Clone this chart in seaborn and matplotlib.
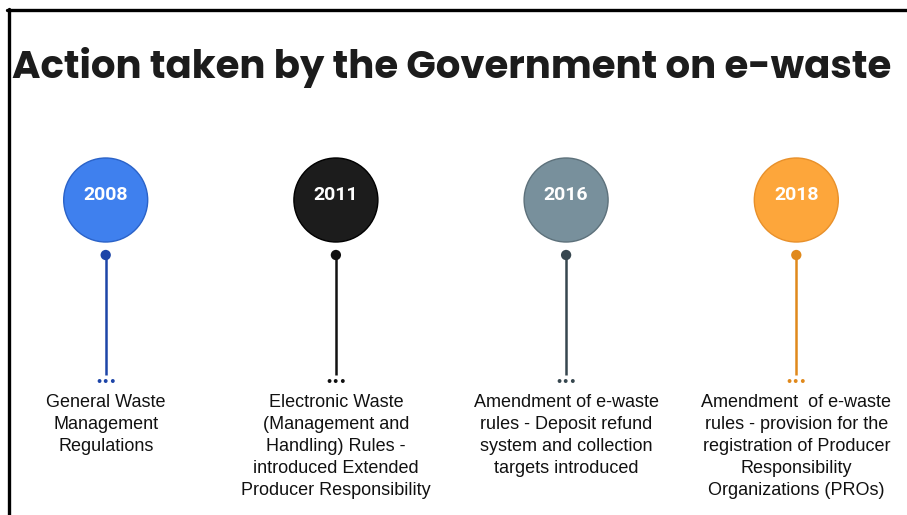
import matplotlib
matplotlib.use("Agg")
import matplotlib.pyplot as plt
import seaborn as sns
import pandas as pd
import numpy as np

# ---- data ----
title = "Action taken by the Government on e-waste"
years = ["2008", "2011", "2016", "2018"]
descriptions = [
    "General Waste\nManagement\nRegulations",
    "Electronic Waste\n(Management and\nHandling) Rules -\nintroduced Extended\nProducer Responsibility",
    "Amendment of e-waste\nrules - Deposit refund\nsystem and collection\ntargets introduced",
    "Amendment  of e-waste\nrules - provision for the\nregistration of Producer\nResponsibility\nOrganizations (PROs)",
]
circle_colors = ["#3f80ee", "#1c1c1c", "#78909c", "#fda63b"]
stem_colors = ["#1d45a8", "#111111", "#37474f", "#e0891c"]
edge_colors = ["#2a62c8", "#000000", "#5d717b", "#e8902a"]

# ---- layout (pixel units on a 907x515 canvas) ----
W, H = 907, 515
X0, DX = 105.7, 230.2          # first event centre and spacing in px
CIRCLE_Y, DOT_Y, STEM_END, DOTS_Y, TEXT_Y = 200, 255, 375, 382, 394

df = pd.DataFrame({"idx": np.arange(len(years)), "year": years,
                   "desc": descriptions})

sns.set_theme(style="white")
plt.rcParams["font.family"] = ["Liberation Sans", "DejaVu Sans"]

fig = plt.figure(figsize=(W / 100, H / 100), dpi=100)
ax = fig.add_axes([0, 0, 1, 1])
ax.set_xlim(-X0 / DX, (W - X0) / DX)
ax.set_ylim(H, 0)
ax.axis("off")

df["cy"] = CIRCLE_Y
df["dy"] = DOT_Y

# big circles
r_pt = 42 * 0.72
sns.scatterplot(data=df, x="idx", y="cy", hue="year", palette=circle_colors,
                s=(2 * r_pt) ** 2, edgecolor=edge_colors,
                linewidth=1.0, legend=False, ax=ax, zorder=3)

for i, row in df.iterrows():
    ax.plot([row.idx, row.idx], [DOT_Y, STEM_END], color=stem_colors[i],
            lw=1.8, zorder=2, solid_capstyle="butt")
    ax.text(row.idx, CIRCLE_Y - 5, row.year, color="white", fontsize=14,
            fontweight="bold", family=["Roboto", "DejaVu Sans"],
            ha="center", va="center", zorder=4)
    ax.text(row.idx, DOTS_Y, "\u2022\u2022\u2022", color=stem_colors[i],
            fontsize=8, fontweight="bold", ha="center", va="center",
            family=["DejaVu Sans"])
    ax.text(row.idx, TEXT_Y, row.desc, color="#111111", fontsize=13,
            ha="center", va="top", linespacing=1.38)

# stem top dots
sns.scatterplot(data=df, x="idx", y="dy", hue="year", palette=stem_colors,
                s=55, edgecolor="none", legend=False, ax=ax, zorder=3)

# title, fitted to the reference width (~880 px)
t = ax.text(12 / DX - X0 / DX, 78, title, fontsize=28, fontweight="bold",
            family=["Poppins", "Inter", "DejaVu Sans"], color="#1c1c1c",
            ha="left", va="baseline")
fig.canvas.draw()
w = t.get_window_extent().width
t.set_fontsize(28 * 880 / w)

# frame lines (top and left)
fig.add_artist(plt.Line2D([7 / W, 1], [1 - 10 / H, 1 - 10 / H],
                          color="black", lw=2.4, transform=fig.transFigure))
fig.add_artist(plt.Line2D([9 / W, 9 / W], [0, 1 - 9 / H],
                          color="black", lw=2.4, transform=fig.transFigure))

fig.savefig("out.png", dpi=100)
